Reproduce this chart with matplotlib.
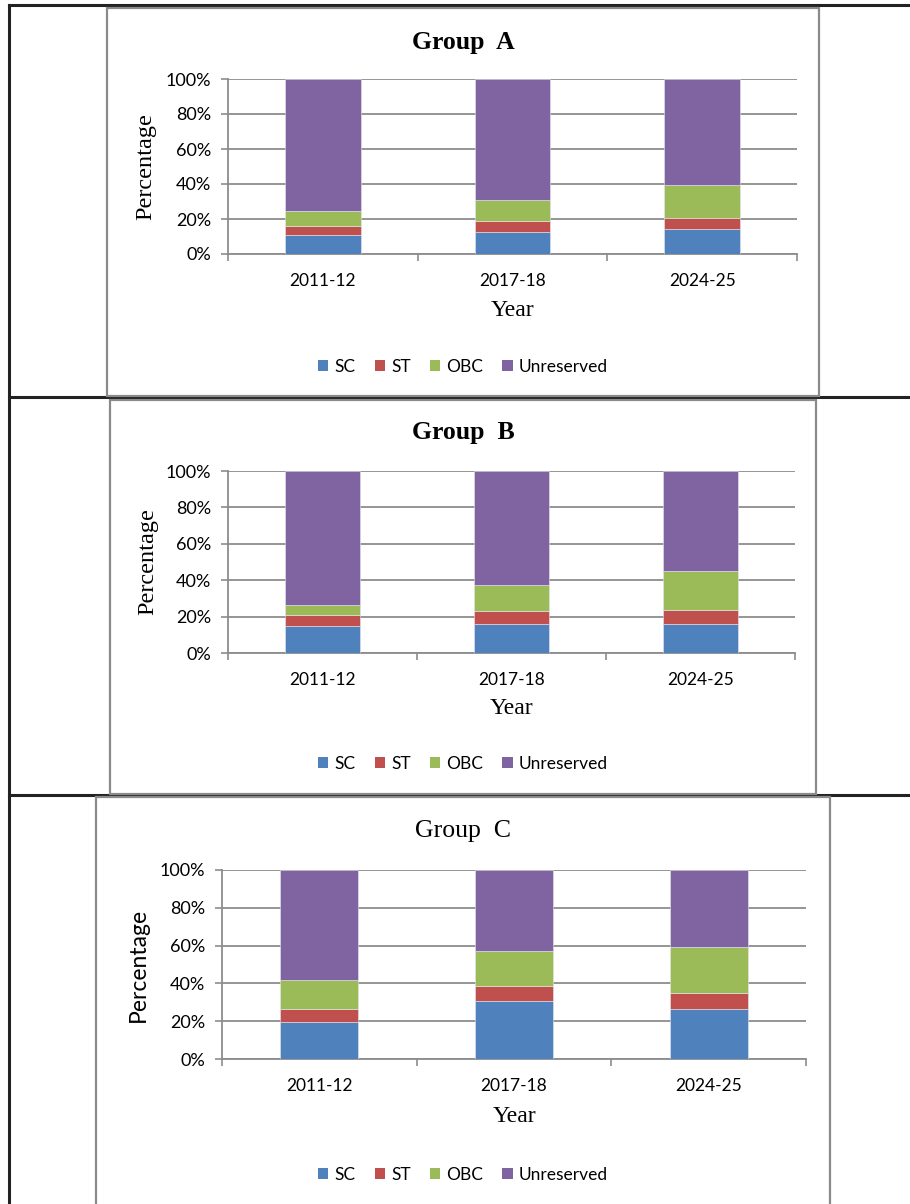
import matplotlib
matplotlib.use("Agg")
import matplotlib.pyplot as plt
import numpy as np
from matplotlib.lines import Line2D
from matplotlib.patches import Rectangle, Patch
from matplotlib.ticker import FixedLocator, PercentFormatter

W, H = 910, 1204

years = ["2011-12", "2017-18", "2024-25"]
categories = ["SC", "ST", "OBC", "Unreserved"]
colors = ["#4F81BD", "#C0504D", "#9BBB59", "#8064A2"]

# percentage shares
group_a_sc = [11.0, 12.7, 14.1]
group_a_st = [5.0, 6.1, 6.4]
group_a_obc = [8.3, 12.0, 19.0]
group_a_unres = [75.7, 69.2, 60.5]

group_b_sc = [14.7, 15.8, 16.1]
group_b_st = [6.2, 7.1, 7.4]
group_b_obc = [5.7, 14.7, 21.8]
group_b_unres = [73.4, 62.4, 54.7]

group_c_sc = [19.4, 30.7, 26.5]
group_c_st = [7.1, 8.0, 8.4]
group_c_obc = [15.3, 18.7, 24.4]
group_c_unres = [58.2, 42.6, 40.7]

SERIF = "Liberation Serif"
SANS = "Lato"
GRID = "#8c8c8c"

fig = plt.figure(figsize=(W / 100, H / 100), dpi=100)

# page / table layer in pixel coordinates
page = fig.add_axes([0, 0, 1, 1], zorder=-5)
page.set_xlim(0, W)
page.set_ylim(H, 0)
page.axis("off")


def draw_chart(series, box, plot, title, bold, ylab_font, ylab_x, title_y, year_y, legend_y):
    bx0, by0, bx1, by1 = box
    page.add_patch(Rectangle((bx0, by0), bx1 - bx0, by1 - by0, fill=True,
                             facecolor="white", edgecolor="#8a8a8a", lw=1.6, zorder=2))
    x0, y0, x1, y1 = plot
    ax = fig.add_axes([x0 / W, 1 - y1 / H, (x1 - x0) / W, (y1 - y0) / H])
    pos = np.arange(len(years))
    bottom = np.zeros(len(years))
    for vals, c in zip(series, colors):
        ax.bar(pos, vals, width=0.4, bottom=bottom, color=c,
               edgecolor="#e6e6f0", linewidth=0.4, zorder=3)
        bottom += np.array(vals)
    ax.set_xlim(-0.5, len(years) - 0.5)
    ax.set_ylim(0, 100)
    ax.set_yticks(np.arange(0, 101, 20))
    ax.yaxis.set_major_formatter(PercentFormatter(decimals=0))
    ax.set_xticks(pos)
    ax.set_xticklabels(years)
    ax.xaxis.set_minor_locator(FixedLocator(np.arange(-0.5, len(years), 1.0)))
    ax.tick_params(axis="x", which="major", length=0, pad=14, labelsize=12.5)
    ax.tick_params(axis="x", which="minor", length=5, color=GRID, width=1.2)
    ax.tick_params(axis="y", length=5, color=GRID, width=1.2, labelsize=13, pad=7)
    for lab in ax.get_xticklabels() + ax.get_yticklabels():
        lab.set_fontfamily(SANS)
    ax.grid(axis="y", color=GRID, lw=1.3, zorder=0)
    ax.set_axisbelow(True)
    for s in ["top", "right"]:
        ax.spines[s].set_visible(False)
    for s in ["left", "bottom"]:
        ax.spines[s].set_color(GRID)
        ax.spines[s].set_linewidth(1.3)

    cx = (bx0 + bx1) / 2
    fig.text(cx / W, 1 - title_y / H, title, ha="center", va="center",
             fontfamily=SERIF, fontsize=18.5, fontweight="bold" if bold else "normal")
    fig.text(ylab_x / W, 1 - ((y0 + y1) / 2) / H, "Percentage", rotation=90,
             ha="center", va="center", fontfamily=ylab_font,
             fontsize=17.5 if ylab_font == SERIF else 16.5)
    fig.text(((x0 + x1) / 2) / W, 1 - year_y / H, "Year", ha="center", va="center",
             fontfamily=SERIF, fontsize=17)
    handles = [Patch(facecolor=c, edgecolor="none") for c in colors]
    fig.legend(handles, categories, loc="center", ncol=4,
               bbox_to_anchor=(cx / W, 1 - legend_y / H), frameon=False,
               prop={"family": SANS, "size": 12.5}, handlelength=0.6, handleheight=0.6,
               handletextpad=0.35, columnspacing=1.1)


# table lines
page.add_line(Line2D([9, 9], [5, H], color="#222222", lw=2.2))
for yy in [5, 397, 795]:
    page.add_line(Line2D([9, W], [yy, yy], color="#222222", lw=2.2))

draw_chart([group_a_sc, group_a_st, group_a_obc, group_a_unres],
           (107, 8, 819, 396), (228, 79, 797, 254), "Group  A", True, SERIF,
           146, 42, 311, 367)
draw_chart([group_b_sc, group_b_st, group_b_obc, group_b_unres],
           (110, 400, 816, 794), (228, 471, 795, 653), "Group  B", True, SERIF,
           148, 433, 709, 764)
draw_chart([group_c_sc, group_c_st, group_c_obc, group_c_unres],
           (96, 797, 830, 1215), (222, 870, 806, 1059), "Group  C", False, SANS,
           138, 831, 1116, 1175)

fig.savefig("out.png", dpi=100)
